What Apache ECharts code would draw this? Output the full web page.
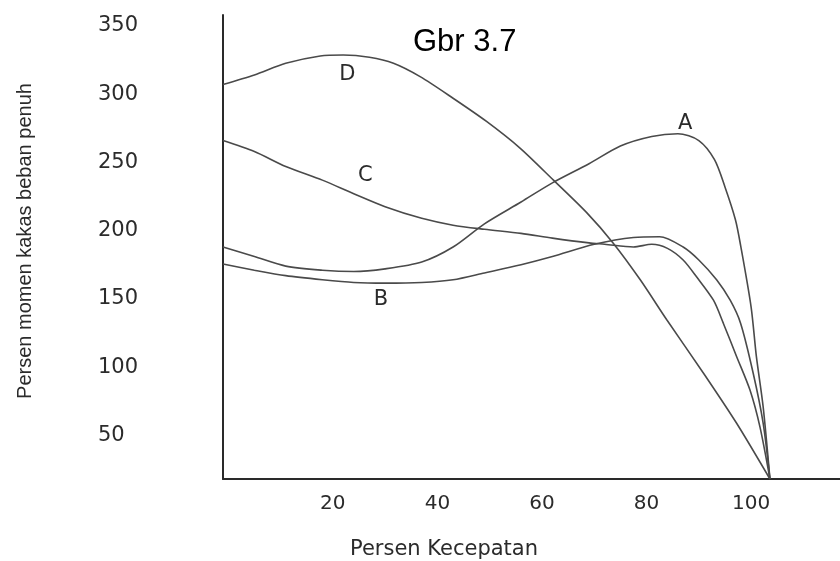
<!DOCTYPE html>
<html>
<head>
<meta charset="utf-8">
<script src="https://cdn.jsdelivr.net/npm/echarts@6/dist/echarts.min.js"></script>
<style>
  html, body { margin: 0; padding: 0; background: #ffffff; }
  #chart { width: 840px; height: 561px; }
</style>
</head>
<body>
<div id="chart"></div>
<script>
// ---- Data (x = Persen Kecepatan, y = Persen momen) ----
const seriesNames = ['A', 'B', 'C', 'D'];

const aSpeed  = [-1, 5, 11, 18, 24, 30, 37, 43, 49, 56, 62, 69, 75, 81, 86, 90, 93, 95, 97, 98, 100, 101, 102.3, 103.6];
const aTorque = [188, 181, 174, 171, 170, 172, 177, 188, 205, 221, 235, 249, 262, 269, 271, 266, 252, 232, 208, 189, 144, 108, 71, 18];

const bSpeed  = [-1, 5, 11, 18, 24, 30, 37, 43, 49, 56, 62, 70, 77.5, 82.5, 87, 90, 93.4, 96, 98, 100.4, 102.3, 103.6];
const bTorque = [175.5, 171, 167, 164, 162, 161.5, 162, 164, 169, 175, 181, 190, 195, 195.5, 188, 178.5, 164, 149, 132, 95.5, 59, 18];

const cSpeed  = [-1, 5, 11, 18, 24, 30, 37, 43, 49, 56, 62, 69, 72, 77.5, 81, 84, 87, 89.6, 92.8, 94.7, 97.2, 99.8, 101.7, 103.6];
const cTorque = [266, 258, 247, 237, 227, 217.5, 209, 204, 201, 198, 194.5, 191, 190, 188, 190, 187, 178.5, 166, 149, 132, 108, 83, 56, 18];

const dSpeed  = [-1, 5, 11, 17.6, 22, 27, 31.6, 36.7, 43, 49.4, 55.8, 62.2, 68.6, 73.6, 78.8, 83.9, 90.9, 97.2, 103.6];
const dTorque = [307, 314, 322.6, 328, 328.7, 327, 322.6, 312.8, 297, 280, 260.5, 237, 213, 191, 164, 134.5, 95.5, 59, 18];

const xTickValues = [20, 40, 60, 80, 100];
const yTickValues = [50, 100, 150, 200, 250, 300, 350];

const titleText = 'Gbr 3.7';
const xAxisTitle = 'Persen Kecepatan';
const yAxisTitle = 'Persen momen kakas beban penuh';

// ---- Build chart ----
function pairs(xs, ys) { return xs.map((x, i) => [x, ys[i]]); }
const curves = [pairs(aSpeed, aTorque), pairs(bSpeed, bTorque), pairs(cSpeed, cTorque), pairs(dSpeed, dTorque)];
// label anchor points (data space) for each curve letter
const labelAnchors = [[87.4, 278.1], [29.2, 149.2], [26.2, 240.4], [22.8, 314.4]];

const lineColor = '#4a4a4a';
const textColor = '#2b2b2b';

const chart = echarts.init(document.getElementById('chart'), null, { renderer: 'canvas' });

chart.setOption({
  backgroundColor: '#ffffff',
  animation: false,
  title: {
    text: titleText,
    left: 413,
    top: 27,
    padding: 0,
    textStyle: { fontFamily: 'Liberation Sans', fontSize: 31, fontWeight: 'normal', color: '#000000' }
  },
  grid: { left: 223, right: 0, top: 15, bottom: 82, containLabel: false },
  xAxis: {
    type: 'value',
    min: -1,
    max: 117,
    axisLine: { show: true, onZero: false, lineStyle: { color: '#2a2a2a', width: 2 } },
    axisTick: { show: false },
    splitLine: { show: false },
    axisLabel: {
      customValues: xTickValues,
      margin: 15,
      fontFamily: 'DejaVu Sans',
      fontSize: 20,
      color: textColor
    }
  },
  yAxis: {
    type: 'value',
    min: 18,
    max: 358,
    name: yAxisTitle,
    nameLocation: 'middle',
    nameGap: 188,
    nameRotate: 90,
    nameTextStyle: { fontFamily: 'Liberation Sans', fontSize: 20, color: textColor, padding: [0, 0, 0, 12] },
    axisLine: { show: true, onZero: false, lineStyle: { color: '#2a2a2a', width: 2 } },
    axisTick: { show: false },
    splitLine: { show: false },
    axisLabel: {
      customValues: yTickValues,
      margin: 125,
      align: 'left',
      fontFamily: 'DejaVu Sans',
      fontSize: 21,
      color: textColor
    }
  },
  graphic: [{
    type: 'text',
    left: 445 - 95,
    top: 539,
    style: {
      text: xAxisTitle,
      font: '21px "DejaVu Sans"',
      fill: textColor
    }
  }],
  series: curves.map((data, i) => ({
    name: seriesNames[i],
    type: 'line',
    data: data,
    smooth: 0.28,
    symbol: 'none',
    clip: false,
    lineStyle: { color: lineColor, width: 1.6 },
    markPoint: {
      symbol: 'circle',
      symbolSize: 0,
      silent: true,
      data: [{ coord: labelAnchors[i], value: seriesNames[i] }],
      label: {
        show: true,
        position: 'inside',
        formatter: seriesNames[i],
        fontFamily: 'DejaVu Sans',
        fontSize: 21,
        color: textColor
      }
    }
  }))
});
</script>
</body>
</html>
